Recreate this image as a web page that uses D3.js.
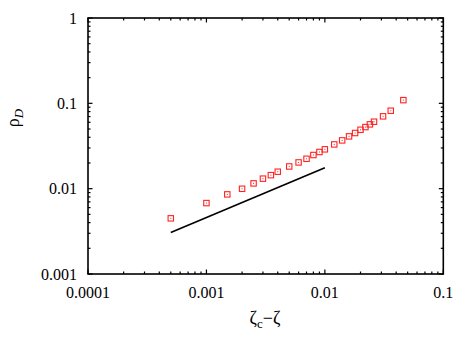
<!DOCTYPE html>
<html><head><meta charset="utf-8">
<script src="https://cdn.jsdelivr.net/npm/d3@7"></script>
<style>body{margin:0;background:#fff}svg{display:block}</style>
</head><body>
<script>
const xData = [0.0005,0.001,0.0015,0.002,0.0025,0.003,0.0035,0.004,0.005,0.006,0.007,0.008,0.009,0.01,0.012,0.014,0.016,0.018,0.02,0.022,0.024,0.026,0.031,0.036,0.046];
const yData = [0.00449,0.00678,0.00857,0.00997,0.01153,0.0131,0.0144,0.0158,0.0182,0.0203,0.0224,0.0248,0.0269,0.0289,0.033,0.0368,0.041,0.0449,0.049,0.0527,0.0567,0.0609,0.0704,0.0819,0.109];
const lineX = [0.0005, 0.01];
const lineY = [0.00307, 0.0176];
const xTicks = [0.0001, 0.001, 0.01, 0.1];
const yTicks = [0.001, 0.01, 0.1, 1];
const xTickLabels = ["0.0001","0.001","0.01","0.1"];
const yTickLabels = ["0.001","0.01","0.1","1"];

const W = 463, H = 343;
const L = 88, R = 443.3, T = 18, B = 274;
const font = "Liberation Serif";
const svg = d3.select("body").append("svg").attr("width", W).attr("height", H);
const x = d3.scaleLog().domain([0.0001, 0.1]).range([L, R]);
const y = d3.scaleLog().domain([0.001, 1]).range([B, T]);

function minors(dom) {
  const out = [];
  for (let e = Math.round(Math.log10(dom[0])); e < Math.round(Math.log10(dom[1])); e++) {
    for (let k = 2; k <= 9; k++) out.push(k * Math.pow(10, e));
  }
  return out;
}
const g = svg.append("g");
const xm = minors(x.domain()), ym = minors(y.domain());
const tk = (x1,y1,x2,y2)=>g.append("line").attr("x1",x1).attr("y1",y1).attr("x2",x2).attr("y2",y2).attr("stroke","#000").attr("stroke-width",1.2);
xm.forEach(v=>{ tk(x(v),B,x(v),B-2.5); tk(x(v),T,x(v),T+2.5); });
ym.forEach(v=>{ tk(L,y(v),L+2.5,y(v)); tk(R,y(v),R-2.5,y(v)); });
xTicks.forEach(v=>{ tk(x(v),B,x(v),B-4.5); tk(x(v),T,x(v),T+4.5); });
yTicks.forEach(v=>{ tk(L,y(v),L+4.5,y(v)); tk(R,y(v),R-4.5,y(v)); });

svg.append("rect").attr("x",L).attr("y",T).attr("width",R-L).attr("height",B-T)
  .attr("fill","none").attr("stroke","#000").attr("stroke-width",1.6);

xTicks.forEach((v,i)=>svg.append("text").attr("x",x(v)).attr("y",B+24)
  .attr("text-anchor","middle").attr("font-family",font).attr("font-size",16).text(xTickLabels[i]));
yTicks.forEach((v,i)=>svg.append("text").attr("x",L-11).attr("y",y(v)+5.5)
  .attr("text-anchor","end").attr("font-family",font).attr("font-size",16).text(yTickLabels[i]));

const line = d3.line().x(d=>x(d[0])).y(d=>y(d[1]));
svg.append("path").datum(lineX.map((v,i)=>[v,lineY[i]])).attr("d",line)
  .attr("fill","none").attr("stroke","#000").attr("stroke-width",1.6);

const pts = xData.map((v,i)=>[v,yData[i]]);
const mg = svg.append("g");
mg.selectAll("rect.m").data(pts).enter().append("rect").attr("class","m")
  .attr("x",d=>x(d[0])-2.7).attr("y",d=>y(d[1])-2.7).attr("width",5.4).attr("height",5.4)
  .attr("fill","none").attr("stroke","#f22").attr("stroke-width",1.1);
mg.selectAll("rect.c").data(pts).enter().append("rect").attr("class","c")
  .attr("x",d=>x(d[0])-0.5).attr("y",d=>y(d[1])-0.5).attr("width",1).attr("height",1)
  .attr("fill","#f22");

const xt = svg.append("text").attr("x",265).attr("y",324).attr("text-anchor","middle")
  .attr("font-family",font).attr("font-size",18);
xt.append("tspan").text("ζ");
xt.append("tspan").attr("font-size",13).attr("dy",4).text("c");
xt.append("tspan").attr("dy",-4).text("−ζ");

const yt = svg.append("text").attr("transform","translate(19,118) rotate(-90)").attr("text-anchor","middle")
  .attr("font-family",font).attr("font-size",18);
yt.append("tspan").text("ρ");
yt.append("tspan").attr("font-size",13).attr("font-style","italic").attr("dy",4).text("D");
</script>
</body></html>
